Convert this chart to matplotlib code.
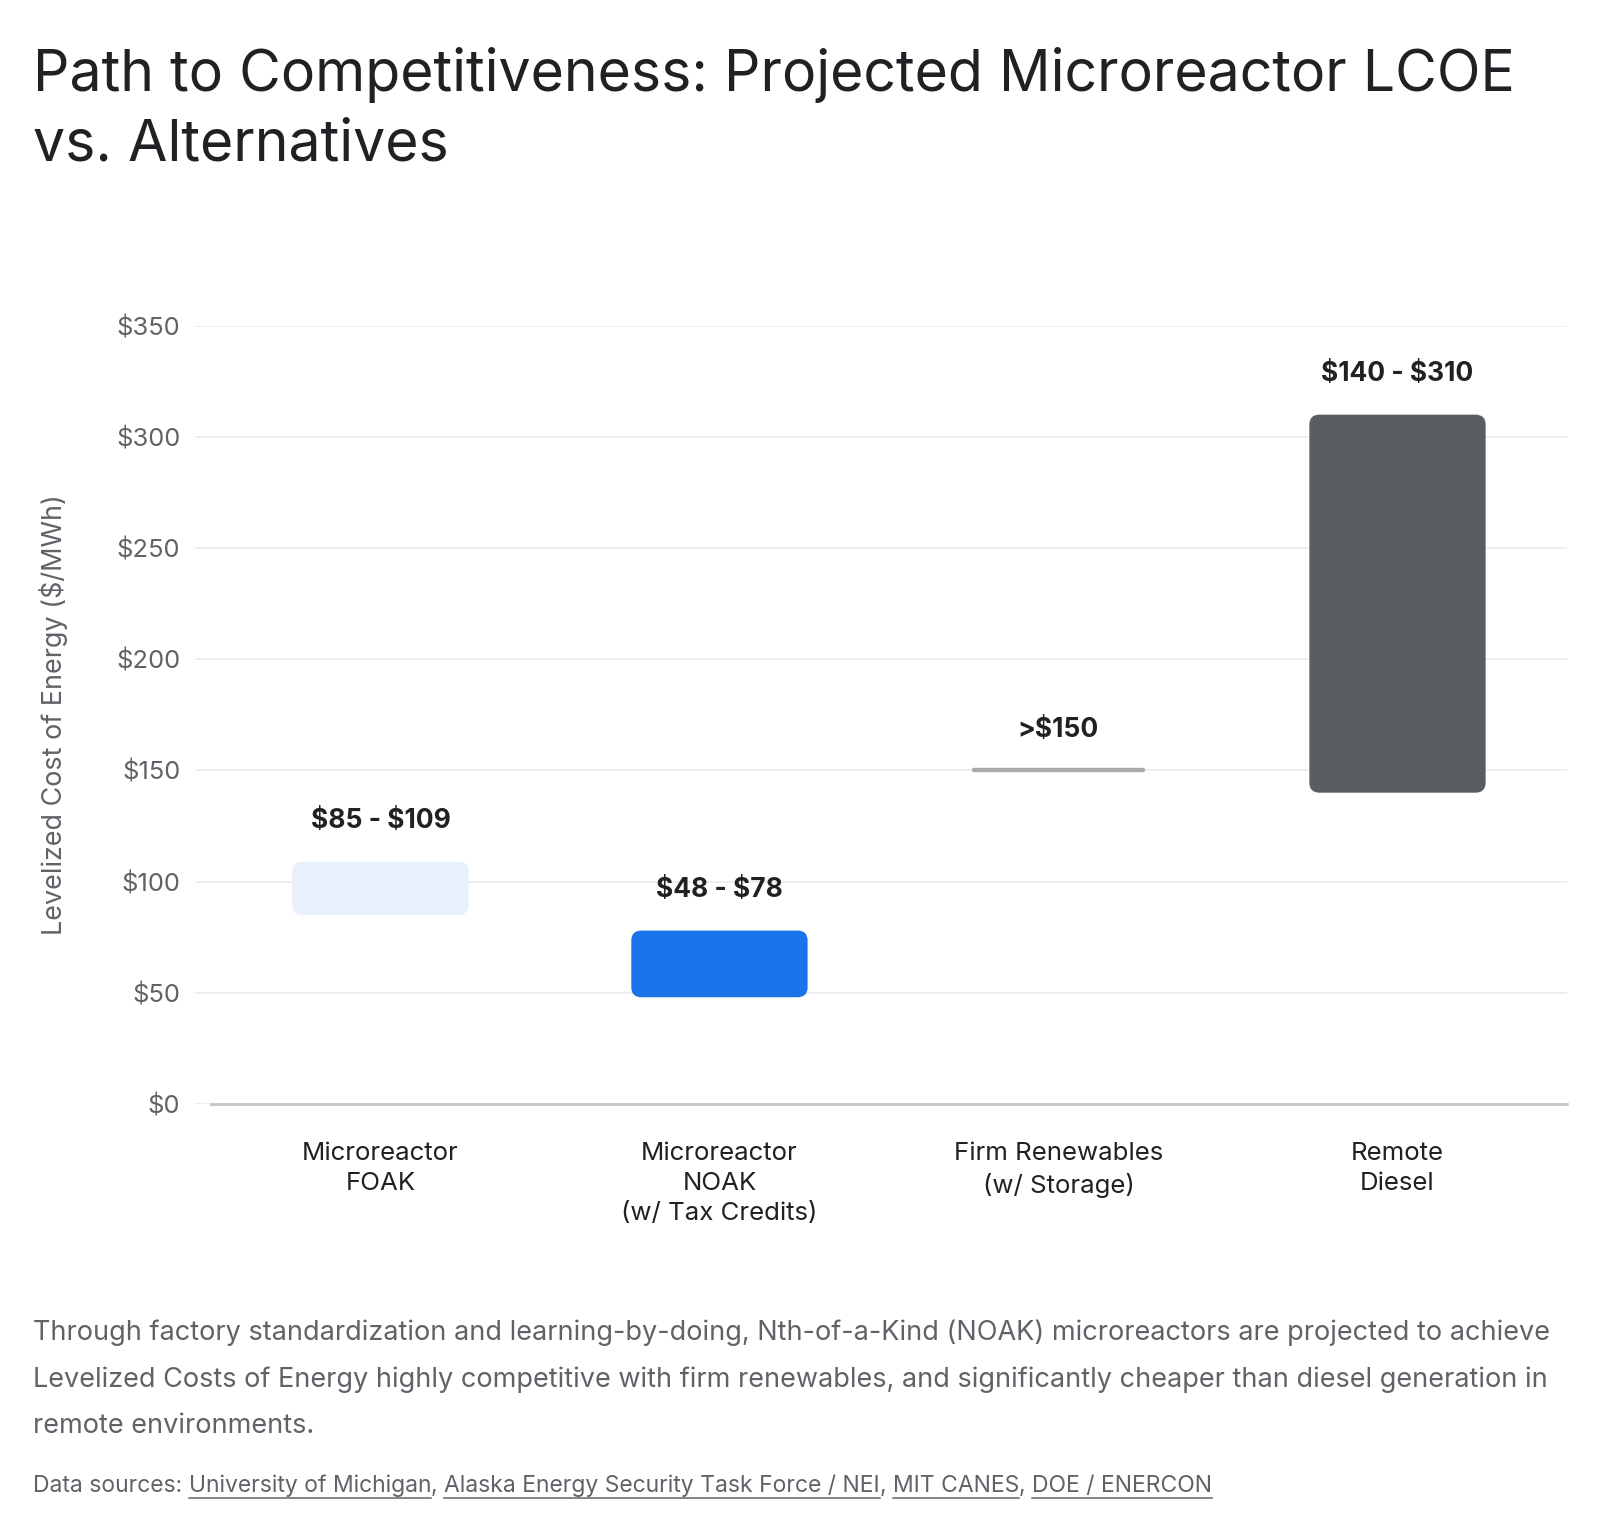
import matplotlib
matplotlib.use('Agg')
import matplotlib.pyplot as plt
from matplotlib.patches import FancyBboxPatch
from matplotlib.lines import Line2D

plt.rcParams['font.family'] = ['Inter', 'DejaVu Sans']
plt.rcParams['text.parse_math'] = False

# data
categories = ['Microreactor\nFOAK', 'Microreactor\nNOAK\n(w/ Tax Credits)',
              'Firm Renewables\n(w/ Storage)', 'Remote\nDiesel']
lows = [85, 48, 150, 140]
highs = [109, 78, 150, 310]
labels = ['$85 - $109', '$48 - $78', '>$150', '$140 - $310']
colors = ['#E8F0FE', '#1A73E8', '#AAAAAA', '#5A5E62']
yticks = [0, 50, 100, 150, 200, 250, 300, 350]

title = 'Path to Competitiveness: Projected Microreactor LCOE\nvs. Alternatives'
body = ('Through factory standardization and learning-by-doing, Nth-of-a-Kind (NOAK) microreactors are projected to achieve\n'
        'Levelized Costs of Energy highly competitive with firm renewables, and significantly cheaper than diesel generation in\n'
        'remote environments.')
sources = ['University of Michigan', 'Alaska Energy Security Task Force / NEI', 'MIT CANES', 'DOE / ENERCON']

W, H = 1600, 1534
fig = plt.figure(figsize=(W / 100, H / 100), dpi=100)
ax = fig.add_axes([195 / W, 1 - 1104 / H, (1567 - 195) / W, (1104 - 325.7) / H])

xmin, xmax = -0.547, 3.5
ax.set_xlim(xmin, xmax)
ax.set_ylim(0, 350)

# px per unit, used for the rounded corners
px_x = (1567 - 195) / (xmax - xmin)
px_y = (1104 - 325.7) / 350
bar_w = 0.52
r_px = 10

for i in range(len(categories)):
    lo, hi = lows[i], highs[i]
    x0 = i - bar_w / 2
    if hi > lo:
        box = FancyBboxPatch((x0, lo), bar_w, hi - lo,
                             boxstyle='round,pad=0,rounding_size=%f' % (r_px / px_x),
                             mutation_aspect=px_x / px_y,
                             facecolor=colors[i], edgecolor='none', zorder=3)
        ax.add_patch(box)
    else:
        ax.plot([x0 + 0.01, x0 + bar_w - 0.01], [lo, hi], color=colors[i], lw=3.2,
                solid_capstyle='round', zorder=3)
    ax.annotate(labels[i], (i, hi), xytext=(0, 29), textcoords='offset points',
                ha='center', va='center', fontsize=19, fontweight='bold', color='#202124')

ax.set_yticks(yticks)
ax.set_yticklabels(['$%d' % v for v in yticks])
ax.grid(axis='y', color='#EDEDED', lw=1.3, zorder=0)
ax.set_axisbelow(True)
ax.plot([-0.5, 3.5], [0, 0], color='#C2C2C2', lw=1.9, zorder=2, clip_on=False)
for s in ax.spines.values():
    s.set_visible(False)
ax.tick_params(axis='y', length=0, pad=10.5, labelsize=18.4, labelcolor='#5F6368')
ax.tick_params(axis='x', length=0, pad=27, labelsize=18.6, labelcolor='#202124')
ax.set_xticks(range(len(categories)))
ax.set_xticklabels(categories, linespacing=1.4, va='top')
ax.set_ylabel('Levelized Cost of Energy ($/MWh)', fontsize=19.4, color='#5F6368')
ax.yaxis.set_label_coords(-(195 - 68) / (1567 - 195), 0.5)

fig.text(33 / W, 1 - 47 / H, title, fontsize=41.2, color='#202124', va='top', ha='left',
         linespacing=1.38)
fig.text(33 / W, 1 - 1379 / H, body, fontsize=19.5, color='#5F6368', va='center',
         ha='left', linespacing=2.0)

# data sources line with underlined links
fig.canvas.draw()
renderer = fig.canvas.get_renderer()
x = 33
ybase = 1 - 1486 / H
t = fig.text(x / W, ybase, 'Data sources: ', fontsize=16.5, color='#5F6368', va='center')
x = t.get_window_extent(renderer).x1
for k, s in enumerate(sources):
    t = fig.text(x / W, ybase, s, fontsize=16.5, color='#5F6368', va='center')
    bb = t.get_window_extent(renderer)
    yl = bb.y0 - 1
    fig.add_artist(Line2D([bb.x0 / W, bb.x1 / W], [yl / H, yl / H], color='#5F6368', lw=1.1))
    x = bb.x1
    if k < len(sources) - 1:
        t = fig.text(x / W, ybase, ', ', fontsize=16.5, color='#5F6368', va='center')
        x = t.get_window_extent(renderer).x1

fig.savefig('out.png', dpi=100, facecolor='white')
